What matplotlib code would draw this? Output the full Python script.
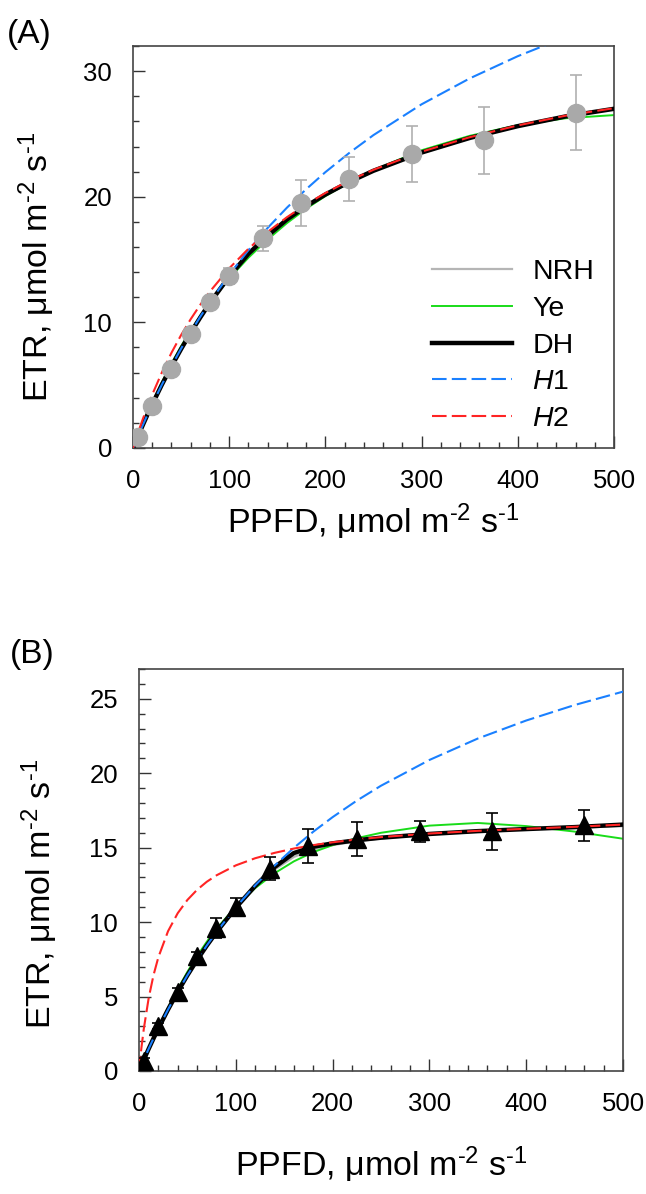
import matplotlib.pyplot as plt
from matplotlib.ticker import MultipleLocator

plt.rcParams['font.family'] = ['Liberation Sans', 'DejaVu Sans']
plt.rcParams['mathtext.fontset'] = 'custom'
plt.rcParams['mathtext.rm'] = 'Liberation Sans'
plt.rcParams['mathtext.it'] = 'Liberation Sans:italic'
plt.rcParams['mathtext.default'] = 'regular'

# measured points (same light levels in both panels)
ppfd = [5, 20, 40, 60, 80, 100, 135, 175, 225, 290, 365, 460]
etr_a = [0.85, 3.35, 6.3, 9.05, 11.6, 13.7, 16.7, 19.5, 21.45, 23.4, 24.5, 26.7]
err_a = [0.15, 0.2, 0.25, 0.3, 0.35, 0.65, 1.0, 1.8, 1.75, 2.25, 2.65, 3.0]
etr_b = [0.7, 3.0, 5.3, 7.7, 9.6, 11.0, 13.6, 15.1, 15.6, 16.1, 16.1, 16.5]
err_b = [0.2, 0.2, 0.25, 0.3, 0.7, 0.6, 0.75, 1.15, 1.15, 0.72, 1.25, 1.05]

# fitted curves
ppfd_fit = [0, 1, 2.5, 5, 10, 15, 20, 30, 40, 50, 60, 70, 80, 100, 120, 140,
            160, 180, 200, 225, 250, 300, 350, 400, 450, 500]

nrh_a = [0, 0.18, 0.45, 0.90, 1.78, 2.64, 3.47, 5.06, 6.55, 7.95, 9.26, 10.49, 11.64,
         13.72, 15.47, 16.86, 18.11, 19.19, 20.13, 21.16, 22.06, 23.53, 24.70, 25.63,
         26.39, 27.04]
ye_a = [0, 0.19, 0.47, 0.94, 1.86, 2.75, 3.60, 5.22, 6.72, 8.10, 9.35, 10.50, 11.55,
        13.50, 15.15, 16.60, 17.90, 19.05, 20.05, 21.15, 22.12, 23.70, 24.85, 25.70,
        26.25, 26.50]
dh_a = [0, 0.18, 0.46, 0.91, 1.79, 2.65, 3.47, 5.04, 6.50, 7.88, 9.18, 10.40, 11.56,
        13.65, 15.46, 16.90, 18.19, 19.25, 20.18, 21.19, 22.07, 23.52, 24.68, 25.62,
        26.40, 27.00]
h1_a = [0, 0.18, 0.46, 0.91, 1.79, 2.65, 3.47, 5.04, 6.52, 7.91, 9.22, 10.46, 11.63,
        13.79, 15.75, 17.52, 19.13, 20.60, 21.96, 23.50, 24.91, 27.36, 29.42, 31.19,
        32.72, 34.05]
h2_a = [0, 0.24, 0.59, 1.17, 2.26, 3.29, 4.25, 6.01, 7.58, 8.99, 10.26, 11.41, 12.46,
        14.30, 15.86, 17.20, 18.37, 19.39, 20.30, 21.29, 22.15, 23.59, 24.74, 25.68,
        26.46, 27.05]

nrh_b = [0, 0.15, 0.38, 0.76, 1.49, 2.19, 2.86, 4.13, 5.32, 6.43, 7.46, 8.42, 9.31,
         10.93, 12.35, 13.52, 14.38, 14.88, 15.17, 15.43, 15.62, 15.89, 16.09, 16.24,
         16.35, 16.44]
ye_b = [0, 0.15, 0.38, 0.76, 1.50, 2.22, 2.92, 4.25, 5.50, 6.66, 7.72, 8.68, 9.55,
        11.04, 12.28, 13.28, 14.08, 14.70, 15.17, 15.64, 16.00, 16.48, 16.66, 16.45,
        16.08, 15.60]
dh_b = [0, 0.15, 0.38, 0.76, 1.49, 2.19, 2.86, 4.13, 5.32, 6.43, 7.46, 8.42, 9.32,
        10.97, 12.43, 13.69, 14.64, 15.06, 15.29, 15.50, 15.67, 15.92, 16.11, 16.25,
        16.38, 16.55]
h1_b = [0, 0.15, 0.38, 0.76, 1.49, 2.19, 2.86, 4.13, 5.32, 6.43, 7.46, 8.43, 9.33,
        10.99, 12.47, 13.79, 14.99, 16.07, 17.05, 18.16, 19.16, 20.89, 22.33, 23.54,
        24.58, 25.48]
h2_b = [0, 0.66, 1.56, 2.85, 4.90, 6.44, 7.64, 9.39, 10.60, 11.49, 12.17, 12.71, 13.14,
        13.81, 14.29, 14.65, 14.94, 15.17, 15.36, 15.55, 15.71, 15.95, 16.13, 16.27,
        16.40, 16.55]

model_names = ['NRH', 'Ye', 'DH', r'$\mathit{H}$1', r'$\mathit{H}$2']
unit_label = 'μmol m$^{\u20102}$ s$^{\u20101}$'

fig = plt.figure(figsize=(6.46, 11.94), dpi=100)
ax_a = fig.add_axes([133 / 646, 1 - 448 / 1194, 481 / 646, 402 / 1194])
ax_b = fig.add_axes([139 / 646, 1 - 1071 / 1194, 484 / 646, 402 / 1194])


def draw_panel(ax, curves, etr, err, marker, mcolor, ecolor, ymax, ymajor, yminor):
    nrh, ye, dh, h1, h2 = curves
    ax.plot(ppfd_fit, nrh, color='#b5b5b5', lw=1.6, label=model_names[0], zorder=2)
    ax.plot(ppfd_fit, ye, color='#19dc19', lw=1.4, label=model_names[1], zorder=2)
    ax.plot(ppfd_fit, dh, color='black', lw=3.2, label=model_names[2], zorder=3)
    ax.plot(ppfd_fit, h1, color='#1a80ff', lw=1.5, dashes=(7, 2.5),
            label=model_names[3], zorder=4)
    ax.plot(ppfd_fit, h2, color='#ff2424', lw=1.5, dashes=(7, 2.5),
            label=model_names[4], zorder=5)
    ax.errorbar(ppfd, etr, yerr=err, fmt=marker, color=mcolor, ms=13,
                ecolor=ecolor, elinewidth=1.2, capsize=4, capthick=1.2, zorder=6)
    ax.set_xlim(0, 500)
    ax.set_ylim(0, ymax)
    ax.xaxis.set_major_locator(MultipleLocator(100))
    ax.xaxis.set_minor_locator(MultipleLocator(20))
    ax.yaxis.set_major_locator(MultipleLocator(ymajor))
    ax.yaxis.set_minor_locator(MultipleLocator(yminor))
    ax.tick_params(which='both', direction='in', top=False, right=False,
                   color='#333333', width=1.0, labelsize=18.5)
    ax.tick_params(which='major', length=8.5)
    ax.tick_params(which='minor', length=4.3)
    ax.tick_params(axis='y', pad=15)
    ax.tick_params(axis='x', pad=15)
    for s in ax.spines.values():
        s.set_color('#444444')
        s.set_linewidth(1.2)
    ax.set_xlabel('PPFD, ' + unit_label, fontsize=24.5)
    ax.set_ylabel('ETR, ' + unit_label, fontsize=24.5)
    ax.xaxis.label.set_verticalalignment('center')
    ax.yaxis.label.set_verticalalignment('center')


draw_panel(ax_a, (nrh_a, ye_a, dh_a, h1_a, h2_a), etr_a, err_a, 'o',
           '#a9a9a9', '#b0b0b0', 32, 10, 2)
draw_panel(ax_b, (nrh_b, ye_b, dh_b, h1_b, h2_b), etr_b, err_b, '^',
           'black', 'black', 27, 5, 1)

ax_a.xaxis.set_label_coords(0.5, (448 - 522) / 402)
ax_a.yaxis.set_label_coords((37 - 133) / 481, 0.45)
ax_b.xaxis.set_label_coords(0.5, (1071 - 1165) / 402)
ax_b.yaxis.set_label_coords((40 - 139) / 484, 0.44)

ax_a.legend(loc='upper left', bbox_to_anchor=((432 - 133) / 481, (448 - 259) / 402),
            frameon=False, fontsize=20.5, handlelength=2.8, handletextpad=0.72,
            labelspacing=0.38, borderpad=0, borderaxespad=0)

fig.text(7 / 646, 1 - 35 / 1194, '(A)', fontsize=24, ha='left', va='center')
fig.text(10 / 646, 1 - 654 / 1194, '(B)', fontsize=24, ha='left', va='center')

fig.savefig('out.png', dpi=100)
